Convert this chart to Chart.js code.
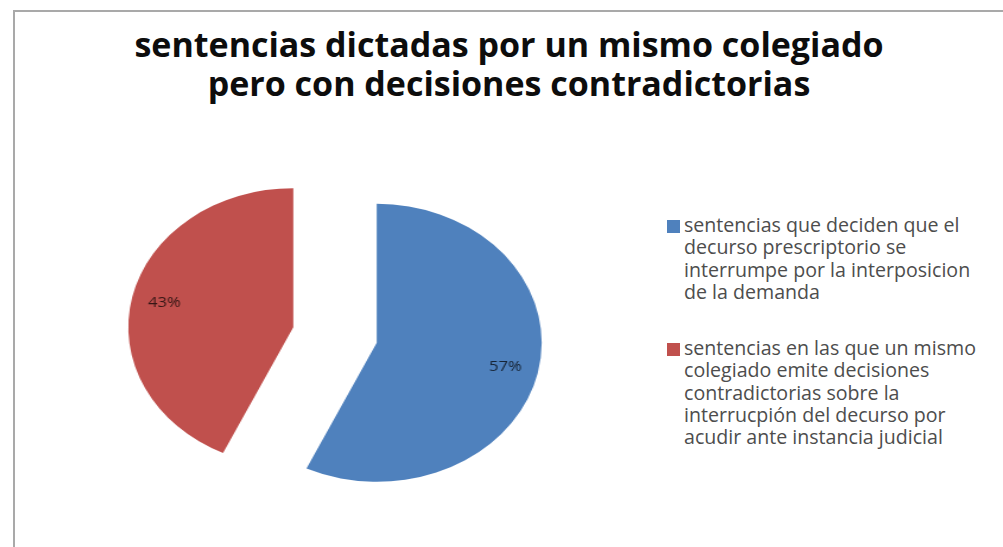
<!DOCTYPE html>
<html>
<head>
<meta charset="utf-8">
<script src="https://cdn.jsdelivr.net/npm/chart.js@4.4.1/dist/chart.umd.min.js"></script>
<style>
    html, body {
        margin: 0;
        padding: 0;
        background: #fff;
    }
    #page {
        position: relative;
        width: 1003px;
        height: 547px;
        overflow: hidden;
        background: #fff;
    }
    /* marco del grafico */
    .frame {
        position: absolute;
        left: 13px;
        top: 10px;
        width: 1010px;
        height: 560px;
        border-left: 2px solid #a9a9a9;
        border-top: 2px solid #a9a9a9;
    }
    .title {
        position: absolute;
        left: 15px;
        top: 25px;
        width: 988px;
        text-align: center;
        font-family: "Open Sans", sans-serif;
        font-weight: bold;
        font-size: 34px;
        line-height: 39px;
        color: #0d0d0d;
        white-space: nowrap;
    }
    .pie-wrap {
        position: absolute;
        left: 115px;
        top: 135px;
        width: 440px;
        height: 400px;
        transform: scaleX(1.187);
        transform-origin: 50% 50%;
    }
    .legend-item {
        position: absolute;
        left: 684px;
        font-family: "Open Sans", sans-serif;
        font-size: 19.6px;
        line-height: 22.3px;
        color: #4d4d4d;
        white-space: nowrap;
    }
    .legend-box {
        position: absolute;
        left: -17px;
        width: 13px;
        height: 13px;
    }
</style>
</head>
<body>
<div id="page">
    <div class="frame"></div>
    <div class="title" id="title"></div>
    <div class="pie-wrap"><canvas id="pie"></canvas></div>
    <div id="legend"></div>
</div>
<script>
// datos
const titleLines = ['sentencias dictadas por un mismo colegiado', 'pero con decisiones contradictorias'];
const categories = [
    ['sentencias que deciden que el', 'decurso prescriptorio se', 'interrumpe por la interposicion', 'de la demanda'],
    ['sentencias en las que un mismo', 'colegiado emite decisiones', 'contradictorias sobre la', 'interrucpión del decurso por', 'acudir ante instancia judicial']
];
const values = [57, 43];
const colors = ['#4f81bd', '#c0504d'];
const explode = 36;   // separacion de las porciones (px)

document.getElementById('title').innerHTML = titleLines.join('<br>');

// leyenda
const legendTops = [214, 337];
const legend = document.getElementById('legend');
categories.forEach((lines, i) => {
    const item = document.createElement('div');
    item.className = 'legend-item';
    item.style.top = legendTops[i] + 'px';
    item.innerHTML = `<span class="legend-box" style="top:6px;background:${colors[i]}"></span>` + lines.join('<br>');
    legend.appendChild(item);
});

function midAngle(p) {
    return (p.startAngle + p.endAngle) / 2;
}

// porciones separadas (tipo "explotado" de Excel)
const explodedPie = {
    id: 'explodedPie',
    beforeDatasetDraw(chart, args) {
        const ctx = chart.ctx;
        args.meta.data.forEach((arc) => {
            const mid = midAngle(arc.getProps(['startAngle', 'endAngle']));
            ctx.save();
            ctx.translate(Math.cos(mid) * explode, Math.sin(mid) * explode);
            arc.draw(ctx, chart.chartArea);
            ctx.restore();
        });
        return false;
    },
    afterDatasetsDraw(chart) {
        const ctx = chart.ctx;
        const meta = chart.getDatasetMeta(0);
        const total = values.reduce((a, b) => a + b, 0);
        ctx.save();
        ctx.font = '14px "Open Sans", sans-serif';
        ctx.fillStyle = 'rgba(0, 0, 0, 0.72)';
        ctx.textAlign = 'center';
        ctx.textBaseline = 'middle';
        meta.data.forEach((arc, i) => {
            const p = arc.getProps(['x', 'y', 'startAngle', 'endAngle', 'outerRadius']);
            const mid = midAngle(p);
            const d = explode + p.outerRadius * 0.8;
            const txt = Math.round(values[i] / total * 100) + '%';
            ctx.fillText(txt, p.x + Math.cos(mid) * d, p.y + Math.sin(mid) * d);
        });
        ctx.restore();
    }
};

new Chart(document.getElementById('pie'), {
    type: 'pie',
    data: {
        labels: categories.map(l => l.join(' ')),
        datasets: [{
            data: values,
            backgroundColor: colors,
            borderWidth: 0,
            radius: 139
        }]
    },
    options: {
        responsive: true,
        maintainAspectRatio: false,
        animation: false,
        events: [],
        layout: { padding: 0 },
        plugins: {
            legend: { display: false },
            title: { display: false },
            tooltip: { enabled: false }
        }
    },
    plugins: [explodedPie]
});
</script>
</body>
</html>
